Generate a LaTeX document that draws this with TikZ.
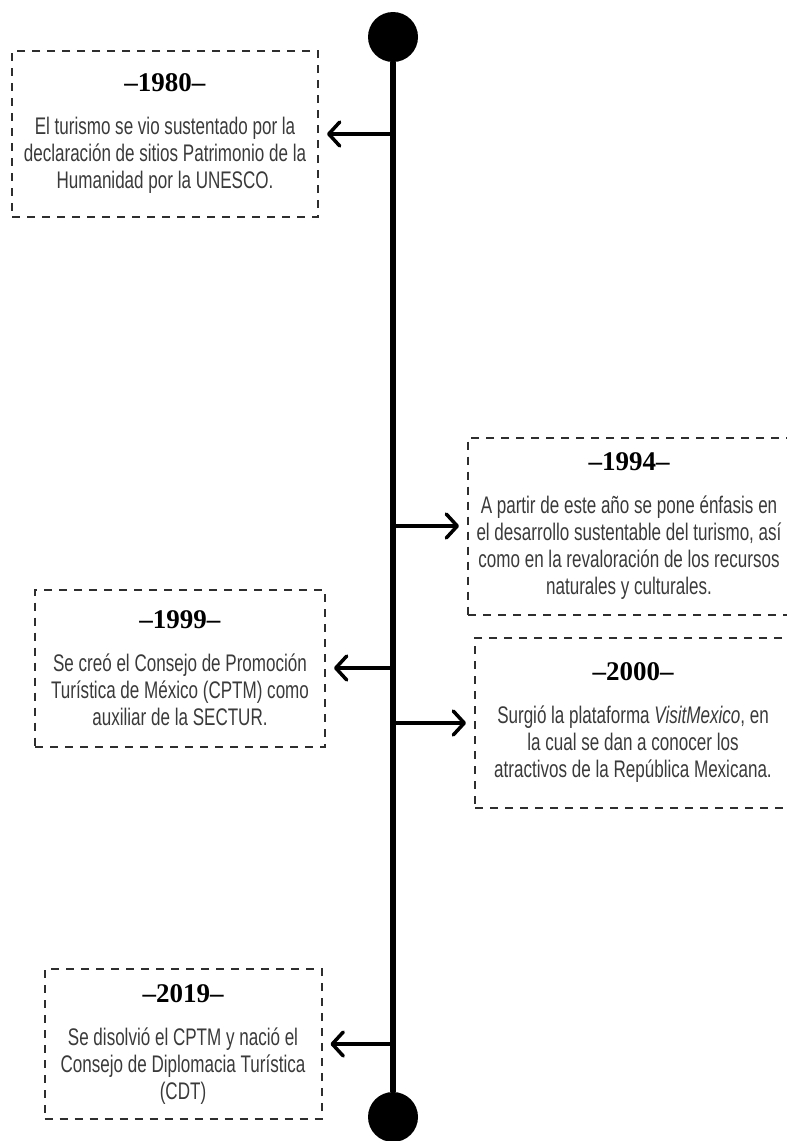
\documentclass[tikz,border=0pt]{standalone}
\usepackage{fontspec}
\usepackage{xcolor}
\usetikzlibrary{arrows.meta}
\newfontfamily\bodyfont[FakeStretch=0.71]{Liberation Sans}
\newfontfamily\yearfont{Liberation Serif}
\definecolor{boxgray}{HTML}{2E2E2E}
\definecolor{textgray}{HTML}{3A3A3A}
\newcommand{\yr}[1]{{\color{black}\yearfont\bfseries\fontsize{27}{28}\selectfont –#1–}\\[16pt]}

\begin{document}
\begin{tikzpicture}[x=1pt,y=-1pt,
  event/.style={draw=boxgray, line width=2pt, dash pattern=on 8pt off 7pt,
    align=center, text=textgray, inner sep=0pt,
    font=\bodyfont\fontsize{24}{27}\selectfont},
  dot/.style={circle, fill=black, minimum size=50pt, inner sep=0pt},
  arr/.style={line width=3.5pt, -{Straight Barb[length=11pt,width=24pt,round]}, shorten >=8pt}]
        \useasboundingbox (0,0) rectangle (787,1141);
        \clip (0,0) rectangle (787,1141);
        % Timeline
        \node[dot] (top) at (393,37) {};
        \node[dot] (bot) at (393,1117) {};
        \draw[line width=6pt] (top) -- (bot);
        % Left side events
        \node[event, minimum width=306pt, minimum height=166pt] (e1980) at (165,134)
            {\yr{1980}El turismo se vio sustentado por la\\declaración de sitios Patrimonio de la\\Humanidad por la UNESCO.};
        \node[event, minimum width=290pt, minimum height=157pt] (e1999) at (180,668)
            {\yr{1999}Se creó el Consejo de Promoción\\Turística de México (CPTM) como\\auxiliar de la SECTUR.};
        \node[event, minimum width=277pt, minimum height=150pt] (e2019) at (183,1044)
            {\yr{2019}Se disolvió el CPTM y nació el\\Consejo de Diplomacia Turística\\(CDT)};
        % Right side events (boxes run past the page edge)
        \node[event, minimum width=322pt, minimum height=177pt] (e1994) at (629,526)
            {\yr{1994}A partir de este año se pone énfasis en\\el desarrollo sustentable del turismo, así\\como en la revaloración de los recursos\\naturales y culturales.};
        \node[event, minimum width=316pt, minimum height=170pt] (e2000) at (633,723)
            {\yr{2000}Surgió la plataforma \textit{VisitMexico}, en\\la cual se dan a conocer los\\atractivos de la República Mexicana.};
        % Arrows
        \draw[arr] (e1980.east -| top) -- (e1980.east);
        \draw[arr] (e1999.east -| top) -- (e1999.east);
        \draw[arr] (e2019.east -| top) -- (e2019.east);
        \draw[arr] (e1994.west -| top) -- (e1994.west);
        \draw[arr] (e2000.west -| top) -- (e2000.west);
\end{tikzpicture}
\end{document}
